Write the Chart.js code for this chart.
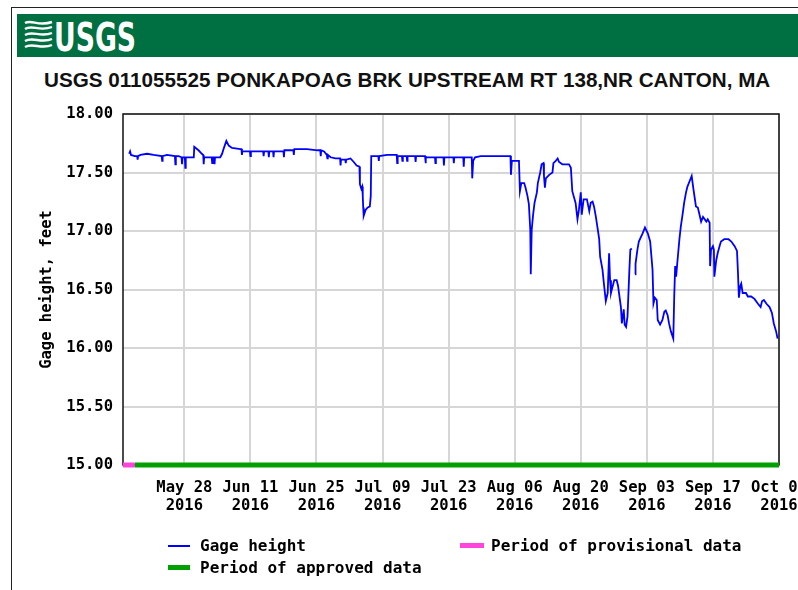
<!DOCTYPE html>
<html><head><meta charset="utf-8">
<script src="https://cdn.jsdelivr.net/npm/chart.js@4/dist/chart.umd.min.js"></script>
<style>
html,body{margin:0;padding:0;background:#fff;width:798px;height:590px;overflow:hidden;}
#frame{position:absolute;left:11px;top:7px;width:800px;height:600px;border-left:1px solid #222;border-top:1px solid #222;}
#header{position:absolute;left:17px;top:14px;width:781px;height:43px;background:#006f41;}
#logo{position:absolute;left:7px;top:5px;}
#title{position:absolute;left:44px;top:68px;white-space:nowrap;font:bold 21px "Liberation Sans",Arial,sans-serif;color:#111;transform-origin:0 0;}
#c{position:absolute;left:0;top:0;}
.leg{position:absolute;font:bold 16px "DejaVu Sans Mono",monospace;color:#000;white-space:nowrap;line-height:18px;}
.sw{position:absolute;}
</style></head><body>
<div id="frame"></div>
<div id="header">
 <svg id="logo" width="122" height="34" viewBox="0 0 122 34">
  <g fill="none" stroke="#fff" stroke-width="2.4">
   <path d="M1 4 C8 0,14 8,28 3"/>
   <path d="M1 10 C8 5,15 13,28 8"/>
   <path d="M1 16 C9 11,16 19,28 14"/>
   <path d="M1 22 C9 17,17 25,28 20"/>
   <path d="M1 28 C9 23,17 31,28 26"/>
  </g>
  <text x="30" y="32" fill="#fff" font-family="'Liberation Sans Narrow','DejaVu Sans Condensed',sans-serif" font-weight="bold" font-size="39" textLength="82" lengthAdjust="spacingAndGlyphs">USGS</text>
 </svg>
</div>
<div id="title">USGS 011055525 PONKAPOAG BRK UPSTREAM RT 138,NR CANTON, MA</div>
<canvas id="c" width="798" height="590"></canvas>
<div class="sw" style="left:168px;top:545px;width:22px;height:1.5px;background:#0000ff"></div>
<div class="leg" style="left:200px;top:537px">Gage height</div>
<div class="sw" style="left:460px;top:543px;width:24px;height:5px;background:#ff44dd"></div>
<div class="leg" style="left:491px;top:537px">Period of provisional data</div>
<div class="sw" style="left:168px;top:565px;width:22px;height:5px;background:#00a000"></div>
<div class="leg" style="left:200px;top:559px">Period of approved data</div>
<script>
// x values: days after May 28, 2016
const dayNumber = [-11.7,-11.5,-11.3,-10.5,-10.0,-9.9,-9.8,-9.3,-7.9,-6.5,-4.8,-4.7,-4.6,-3.7,-2.0,-1.9,-1.8,-1.2,-0.6,-0.5,-0.4,0.1,0.2,0.3,2.0,2.1,3.0,3.7,4.0,4.1,4.2,5.8,5.9,6.0,6.3,6.4,6.5,7.6,8.0,8.3,8.9,9.4,10.1,11.9,12.1,12.2,12.3,13.9,14.0,14.1,15.4,16.7,16.8,16.9,17.8,17.9,18.0,18.8,18.9,19.0,20.0,21.0,21.1,21.2,23.1,23.2,23.3,26.0,28.2,28.8,28.9,29.0,29.6,30.2,30.3,30.4,31.0,32.0,33.0,33.1,33.2,34.1,34.2,34.3,35.2,35.9,36.5,37.1,37.2,37.5,37.7,37.8,37.9,38.0,38.4,38.8,39.3,39.5,39.6,40.2,41.1,41.2,41.3,43.0,45.0,45.1,45.2,46.1,46.2,46.3,47.1,47.2,47.3,48.9,49.0,49.1,51.0,51.1,51.2,53.1,53.2,53.3,54.9,55.0,55.1,57.0,57.1,57.2,59.1,59.2,59.3,60.9,61.0,61.2,61.6,62.8,66.0,68.5,69.1,69.2,69.4,70.9,71.1,71.4,72.0,72.3,72.7,73.0,73.3,73.4,73.6,73.9,74.2,74.7,74.9,75.4,75.7,76.1,76.2,76.4,76.6,77.3,78.0,78.2,78.7,79.1,79.4,80.1,81.5,81.9,82.2,82.9,83.3,83.6,84.0,84.2,84.6,85.3,85.8,86.1,86.5,86.8,87.2,87.5,87.9,88.1,88.6,88.9,89.3,89.7,90.0,90.2,90.4,90.7,91.1,91.6,91.9,92.1,92.5,92.7,93.1,93.3,93.6,93.9,94.3,94.5,94.8,95.1,95.5,95.6,96.0,96.3,97.1,97.6,98.2,98.7,99.2,99.4,99.7,100.1,100.3,100.8,101.3,101.7,102.0,102.4,102.7,103.1,103.6,103.8,104.0,104.2,104.5,104.9,105.2,105.6,105.9,106.3,106.6,107.2,107.5,107.9,108.4,108.8,109.1,109.5,109.9,110.6,110.9,111.3,111.4,111.6,112.0,112.2,112.3,112.7,113.0,113.4,113.7,114.4,115.3,115.9,116.6,117.1,117.3,117.5,117.8,118.0,118.3,119.0,119.4,120.1,120.8,121.5,122.1,122.4,122.8,123.3,124.0,124.5,124.9,125.4,125.7];
// gage height, feet
const gageHeight = [17.66,17.68,17.65,17.64,17.64,17.61,17.64,17.65,17.66,17.65,17.64,17.60,17.64,17.65,17.64,17.57,17.64,17.64,17.63,17.57,17.63,17.63,17.54,17.63,17.63,17.72,17.69,17.66,17.65,17.57,17.63,17.63,17.58,17.63,17.63,17.57,17.63,17.63,17.66,17.70,17.77,17.73,17.71,17.70,17.70,17.65,17.68,17.68,17.64,17.68,17.68,17.68,17.64,17.68,17.68,17.63,17.68,17.68,17.63,17.68,17.68,17.68,17.63,17.69,17.69,17.65,17.70,17.70,17.69,17.69,17.64,17.69,17.68,17.65,17.62,17.65,17.63,17.62,17.62,17.56,17.61,17.61,17.58,17.61,17.62,17.59,17.56,17.55,17.40,17.36,17.38,17.30,17.20,17.13,17.18,17.20,17.21,17.30,17.64,17.64,17.64,17.60,17.64,17.65,17.65,17.58,17.64,17.64,17.60,17.64,17.64,17.60,17.64,17.64,17.59,17.64,17.64,17.58,17.63,17.63,17.58,17.63,17.63,17.56,17.63,17.63,17.58,17.63,17.63,17.55,17.63,17.63,17.45,17.60,17.63,17.64,17.64,17.64,17.64,17.48,17.60,17.60,17.34,17.41,17.41,17.37,17.30,17.23,17.01,16.63,17.01,17.14,17.24,17.33,17.41,17.50,17.57,17.58,17.47,17.37,17.45,17.48,17.50,17.58,17.60,17.62,17.59,17.57,17.57,17.54,17.34,17.24,17.10,17.18,17.33,17.14,17.27,17.27,17.17,17.24,17.25,17.21,17.12,17.04,16.93,16.78,16.67,16.55,16.40,16.47,16.81,16.58,16.47,16.52,16.58,16.58,16.53,16.47,16.35,16.21,16.33,16.20,16.18,16.27,16.67,16.84,16.85,null,16.63,16.72,16.84,16.91,16.98,17.03,16.98,16.91,16.67,16.38,16.43,16.41,16.24,16.20,16.24,16.31,16.32,16.28,16.21,16.14,16.08,16.44,16.70,16.61,16.75,16.93,17.04,17.15,17.24,17.33,17.38,17.44,17.47,17.35,17.21,17.20,17.15,17.08,17.12,17.08,17.10,17.07,16.70,16.84,16.87,16.84,16.61,16.75,16.81,16.87,16.91,16.93,16.93,16.91,16.87,16.83,16.65,16.43,16.53,16.55,16.47,16.47,16.44,16.44,16.42,16.38,16.35,16.40,16.41,16.38,16.35,16.30,16.21,16.14,16.08];
const tickDays = [0,14,28,42,56,70,84,98,112,126];
const tickLabels = [["May 28","2016"],["Jun 11","2016"],["Jun 25","2016"],["Jul 09","2016"],["Jul 23","2016"],["Aug 06","2016"],["Aug 20","2016"],["Sep 03","2016"],["Sep 17","2016"],["Oct 01","2016"]];
const yTicks = [15.0,15.5,16.0,16.5,17.0,17.5,18.0];
const provisionalDays = [-13,-10.5];
const approvedDays = [-10.5,126];
const periodLevel = 15.0;

// fit title width
const t = document.getElementById('title');
t.style.transform = 'scaleX(' + (726 / t.offsetWidth) + ')';

const monoFont = {family:'"DejaVu Sans Mono", monospace', size:15.5, weight:'bold', lineHeight:1.15};

const framePlugin = {
  id:'frame',
  beforeDatasetsDraw(chart){
    const a = chart.chartArea, c = chart.ctx;
    c.save(); c.strokeStyle = '#111'; c.lineWidth = 1.5;
    c.strokeRect(a.left, a.top, a.right - a.left, a.bottom - a.top);
    c.restore();
  }
};

new Chart(document.getElementById('c'), {
  type:'line',
  data:{datasets:[
    {label:'Gage height', data: dayNumber.map((d,i)=>({x:d,y:gageHeight[i]})), borderColor:'#0000ff', borderWidth:1.8, pointRadius:0, tension:0, spanGaps:false},
    {label:'Period of provisional data', data: provisionalDays.map(d=>({x:d,y:periodLevel})), borderColor:'#ff44dd', borderWidth:5, pointRadius:0, clip:false, borderCapStyle:'butt'},
    {label:'Period of approved data', data: approvedDays.map(d=>({x:d,y:periodLevel})), borderColor:'#00a000', borderWidth:5, pointRadius:0, clip:false, borderCapStyle:'butt'}
  ]},
  options:{
    responsive:false, animation:false, devicePixelRatio:1,
    layout:{padding:{left:38, top:114, right:19, bottom:65}},
    plugins:{legend:{display:false}, tooltip:{enabled:false}},
    scales:{
      x:{type:'linear', min:-13, max:126,
        afterBuildTicks:s=>{s.ticks = tickDays.map(v=>({value:v}));},
        ticks:{autoSkip:false, maxRotation:0, minRotation:0, padding:14, color:'#000', font:monoFont,
          callback:(v,i)=>tickLabels[i]},
        grid:{color:'#d6d6d6', lineWidth:2, drawTicks:false},
        border:{display:false},
        afterFit:s=>{s.height = 60; s.paddingLeft = 0; s.paddingRight = 0;}
      },
      y:{min:15, max:18,
        afterBuildTicks:s=>{s.ticks = yTicks.map(v=>({value:v}));},
        ticks:{padding:10, color:'#000', font:monoFont, callback:v=>v.toFixed(2)},
        grid:{color:'#d6d6d6', lineWidth:2, drawTicks:false},
        border:{display:false},
        title:{display:true, text:'Gage height, feet', color:'#000', font:monoFont, padding:0},
        afterFit:s=>{s.width = 85; s.paddingTop = 0; s.paddingBottom = 0;}
      }
    }
  },
  plugins:[framePlugin]
});
</script>
</body></html>
